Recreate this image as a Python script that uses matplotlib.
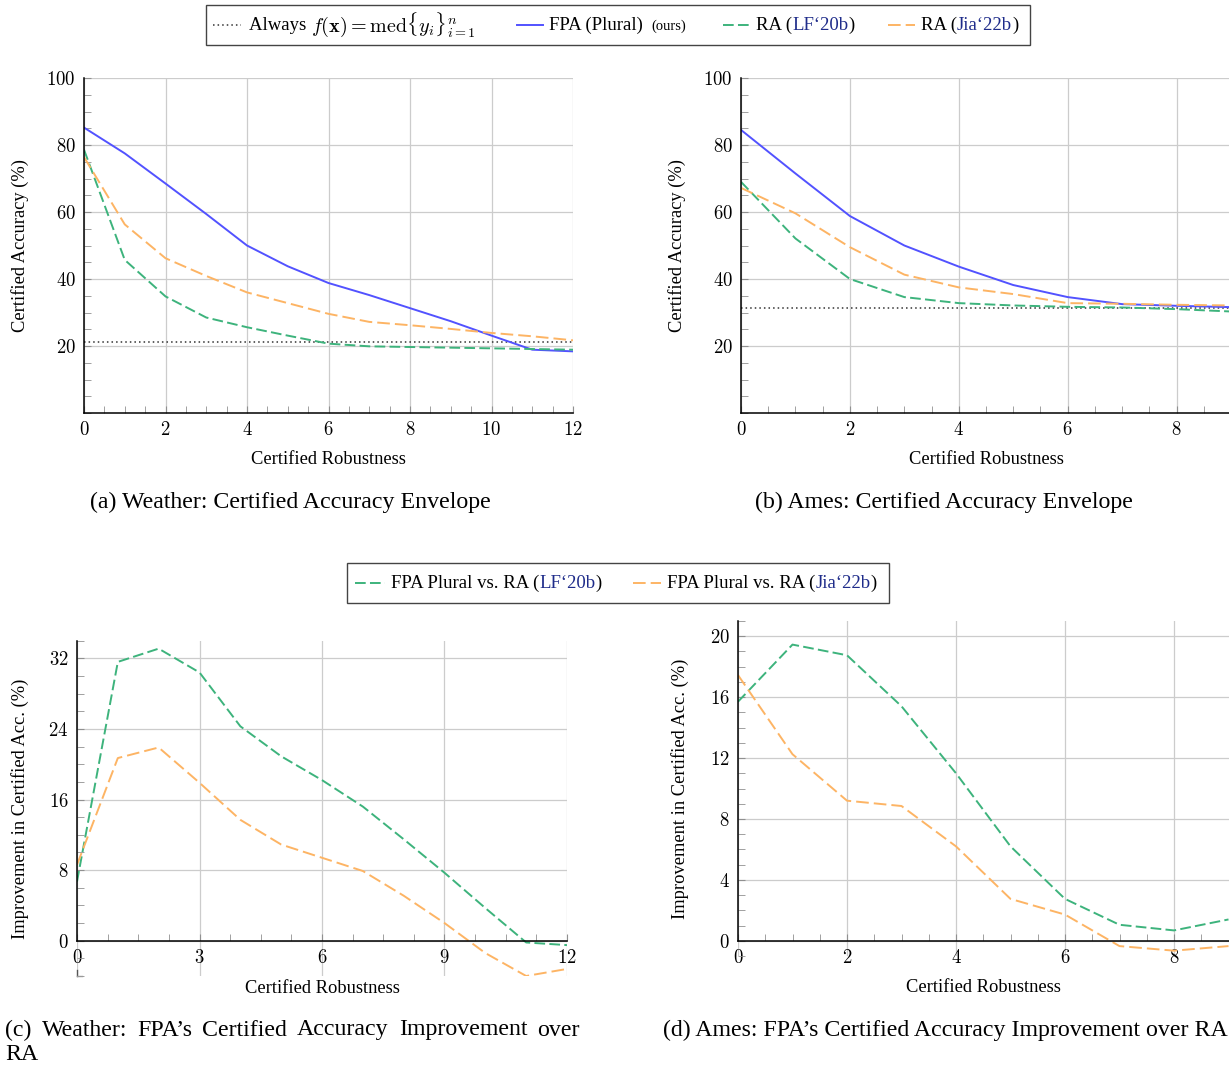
import matplotlib
matplotlib.use('Agg')
import matplotlib.pyplot as plt
from matplotlib.lines import Line2D
from matplotlib.patches import Rectangle
from matplotlib.ticker import MultipleLocator, FixedLocator, FuncFormatter

plt.rcParams['font.family'] = ['Liberation Serif', 'DejaVu Serif']
plt.rcParams['mathtext.fontset'] = 'cm'

W, H = 1229, 1068

# ---- data ----
robust_weather = list(range(13))
weather_fpa = [85.2, 77.5, 68.5, 59.4, 50.0, 43.8, 38.8, 35.2, 31.3, 27.4, 23.1, 18.9, 18.4]
weather_lf = [78.6, 45.7, 34.8, 28.5, 25.6, 23.1, 20.7, 19.9, 19.7, 19.5, 19.3, 19.1, 18.9]
weather_jia = [76.4, 56.3, 46.2, 40.9, 36.0, 32.8, 29.6, 27.2, 26.2, 25.1, 23.9, 22.9, 21.7]
weather_median = 21.3

robust_ames = list(range(10))
ames_fpa = [84.5, 71.5, 58.8, 50.0, 43.7, 38.2, 34.6, 32.5, 32.0, 31.6]
ames_lf = [69.0, 52.1, 40.0, 34.6, 32.8, 32.1, 31.7, 31.5, 31.0, 30.3]
ames_jia = [67.2, 59.6, 49.5, 41.3, 37.5, 35.5, 32.8, 32.6, 32.3, 32.1]
ames_median = 31.3

weather_gain_lf = [6.7, 31.6, 33.1, 30.4, 24.3, 20.9, 18.2, 15.2, 11.5, 7.7, 3.7, -0.2, -0.5]
weather_gain_jia = [8.6, 20.7, 21.9, 17.9, 13.7, 10.9, 9.4, 7.9, 5.1, 2.0, -1.4, -4.0, -3.2]
ames_gain_lf = [15.7, 19.45, 18.75, 15.4, 11.0, 6.2, 2.75, 1.05, 0.68, 1.4]
ames_gain_jia = [17.45, 12.25, 9.2, 8.85, 6.2, 2.75, 1.72, -0.35, -0.65, -0.35]

BLUE = '#5252ff'
GREEN = '#3db37c'
ORANGE = '#fdb464'
CITE = '#1f2c8a'
GRID = '#cccccc'
dash_g = (5.5, 2.2)
dash_o = (6.5, 2.6)

fig = plt.figure(figsize=(W / 100, H / 100), dpi=100)
renderer = fig.canvas.get_renderer()


def make_ax(left, top, right, bottom):
    return fig.add_axes([left / W, 1 - bottom / H, (right - left) / W, (bottom - top) / H])


def fx(x):
    return x / W


def fy(y):
    return 1 - y / H


def style(ax, xmaj, xmin_, yticks, ymin_):
    for s in ['top', 'right']:
        ax.spines[s].set_visible(False)
    for s in ['left', 'bottom']:
        ax.spines[s].set_linewidth(1.1)
    ax.xaxis.set_major_locator(MultipleLocator(xmaj))
    ax.xaxis.set_minor_locator(MultipleLocator(xmin_))
    ax.yaxis.set_major_locator(FixedLocator(yticks))
    ax.yaxis.set_minor_locator(MultipleLocator(ymin_))
    fmt = FuncFormatter(lambda v, p: '$%g$' % v)
    ax.xaxis.set_major_formatter(fmt)
    ax.yaxis.set_major_formatter(fmt)
    ax.tick_params(which='both', direction='in', color='#909090', labelsize=13.5, pad=6)
    ax.tick_params(which='major', length=5)
    ax.tick_params(which='minor', length=5)
    ax.grid(True, which='major', color=GRID, lw=0.9)
    ax.set_axisbelow(True)


AS = 13.3

# ---- (a) weather envelope ----
ax_a = make_ax(84, 78, 573, 413)
ax_a.plot(robust_weather, [weather_median] * len(robust_weather), color='#333333', lw=1.1, ls=(0, (1, 2)))
ax_a.plot(robust_weather, weather_fpa, color=BLUE, lw=1.4)
ax_a.plot(robust_weather, weather_lf, color=GREEN, lw=1.4, dashes=dash_g)
ax_a.plot(robust_weather, weather_jia, color=ORANGE, lw=1.4, dashes=dash_o)
ax_a.set_xlim(0, 12)
ax_a.set_ylim(0, 100)
style(ax_a, 2, 0.5, [20, 40, 60, 80, 100], 5)

# ---- (b) ames envelope ----
ax_b = make_ax(741, 78, 1231, 413)
ax_b.plot(robust_ames, [ames_median] * len(robust_ames), color='#333333', lw=1.1, ls=(0, (1, 2)))
ax_b.plot(robust_ames, ames_fpa, color=BLUE, lw=1.4)
ax_b.plot(robust_ames, ames_lf, color=GREEN, lw=1.4, dashes=dash_g)
ax_b.plot(robust_ames, ames_jia, color=ORANGE, lw=1.4, dashes=dash_o)
ax_b.set_xlim(0, 9)
ax_b.set_ylim(0, 100)
style(ax_b, 2, 0.5, [20, 40, 60, 80, 100], 5)

for ax in [ax_a, ax_b]:
    ax.set_xlabel('Certified Robustness', fontsize=AS)
    ax.xaxis.set_label_coords(0.5, -0.14)
    ax.xaxis.label.set_va('center')
    ax.set_ylabel('Certified Accuracy (%)', fontsize=AS)
    ax.yaxis.set_label_coords(-0.131, 0.5)
    ax.yaxis.label.set_va('center')

# ---- (c) weather improvement ----
ax_c = make_ax(77, 640.7, 567, 976)
ax_c.plot(robust_weather, weather_gain_lf, color=GREEN, lw=1.4, dashes=dash_g)
ax_c.plot(robust_weather, weather_gain_jia, color=ORANGE, lw=1.4, dashes=dash_o)
ax_c.set_xlim(0, 12)
ax_c.set_ylim(-4, 34)
style(ax_c, 3, 0.75, [0, 8, 16, 24, 32], 2)
ax_c.spines['bottom'].set_position(('data', 0))
ax_c.spines['left'].set_bounds(0, 34)
ax_c.plot([0, 0], [-4, -3.3], color='#555555', lw=1, clip_on=False)
ax_c.plot([0, 0.12], [-4, -4], color='#999999', lw=1, clip_on=False)
ax_c.yaxis.set_label_coords(-0.116, 0.5)
ax_c.xaxis.set_label_coords(0.5, -0.036)

# ---- (d) ames improvement ----
ax_d = make_ax(738, 621, 1228.5, 956)
ax_d.plot(robust_ames, ames_gain_lf, color=GREEN, lw=1.4, dashes=dash_g)
ax_d.plot(robust_ames, ames_gain_jia, color=ORANGE, lw=1.4, dashes=dash_o)
ax_d.set_xlim(0, 9)
ax_d.set_ylim(-1, 21)
style(ax_d, 2, 0.5, [0, 4, 8, 12, 16, 20], 1)
ax_d.spines['bottom'].set_position(('data', 0))
ax_d.spines['left'].set_bounds(0, 21)
ax_d.yaxis.set_label_coords(-0.118, 0.5)
ax_d.xaxis.set_label_coords(0.5, -0.095)

for ax in [ax_c, ax_d]:
    ax.set_xlabel('Certified Robustness', fontsize=AS)
    ax.xaxis.label.set_va('center')
    ax.set_ylabel('Improvement in Certified Acc. (%)', fontsize=AS)
    ax.yaxis.label.set_va('center')


# ---- legends drawn by hand (multi-coloured labels) ----
def text_run(x, y, parts):
    for s, kw in parts:
        t = fig.text(fx(x), fy(y), s, va='center', ha='left', **kw)
        x += t.get_window_extent(renderer).width
    return x


def handle(x0, x1, y, **kw):
    fig.add_artist(Line2D([fx(x0), fx(x1)], [fy(y), fy(y)], transform=fig.transFigure, **kw))


LS = 13.5
fig.add_artist(Rectangle((fx(206), fy(45)), fx(1030) - fx(206), fy(5) - fy(45),
                         transform=fig.transFigure, fill=False, ec='#444444', lw=1))
handle(213, 241, 25, color='#333333', lw=1.1, ls=(0, (1, 2)))
x = text_run(249, 25, [('Always ', dict(fontsize=LS))])
text_run(x, 25, [(r'$f(\mathbf{x}) = \mathrm{med}\{y_i\}_{i=1}^n$', dict(fontsize=14.5))])
handle(517, 543, 25, color=BLUE, lw=1.4)
x = text_run(549, 25, [('FPA (Plural)', dict(fontsize=LS))])
text_run(x + 9, 26, [('(ours)', dict(fontsize=10.5))])
handle(723, 750, 25, color=GREEN, lw=1.4, dashes=dash_g)
text_run(756, 25, [('RA (', dict(fontsize=LS)), ('LF\u201820b', dict(fontsize=LS, color=CITE)),
                   (')', dict(fontsize=LS))])
handle(888, 915, 25, color=ORANGE, lw=1.4, dashes=dash_o)
text_run(921, 25, [('RA (', dict(fontsize=LS)), ('Jia\u201822b', dict(fontsize=LS, color=CITE)),
                   (')', dict(fontsize=LS))])

fig.add_artist(Rectangle((fx(347), fy(603)), fx(889) - fx(347), fy(563) - fy(603),
                         transform=fig.transFigure, fill=False, ec='#444444', lw=1))
handle(355, 385, 583, color=GREEN, lw=1.4, dashes=dash_g)
text_run(391, 583, [('FPA Plural vs. RA (', dict(fontsize=LS)), ('LF\u201820b', dict(fontsize=LS, color=CITE)),
                    (')', dict(fontsize=LS))])
handle(633, 661, 583, color=ORANGE, lw=1.4, dashes=dash_o)
text_run(667, 583, [('FPA Plural vs. RA (', dict(fontsize=LS)), ('Jia\u201822b', dict(fontsize=LS, color=CITE)),
                    (')', dict(fontsize=LS))])

# ---- sub captions ----
CS = 17.2
fig.text(fx(90), fy(502), '(a) Weather: Certified Accuracy Envelope', fontsize=CS, va='center')
fig.text(fx(755), fy(502), '(b) Ames: Certified Accuracy Envelope', fontsize=CS, va='center')
fig.text(fx(663), fy(1030), '(d) Ames: FPA\u2019s Certified Accuracy Improvement over RA', fontsize=CS, va='center')

# justified first line of caption (c)
words = ['(c)', 'Weather:', 'FPA\u2019s', 'Certified', 'Accuracy', 'Improvement', 'over']
texts = [fig.text(0, fy(1030), w, fontsize=CS, va='center') for w in words]
widths = [t.get_window_extent(renderer).width for t in texts]
gap = (580 - 5 - sum(widths)) / (len(words) - 1)
x = 5
for t, w in zip(texts, widths):
    t.set_x(fx(x))
    x += w + gap
fig.text(fx(5), fy(1055), 'RA', fontsize=CS, va='center')

fig.savefig('out.png', dpi=100)
